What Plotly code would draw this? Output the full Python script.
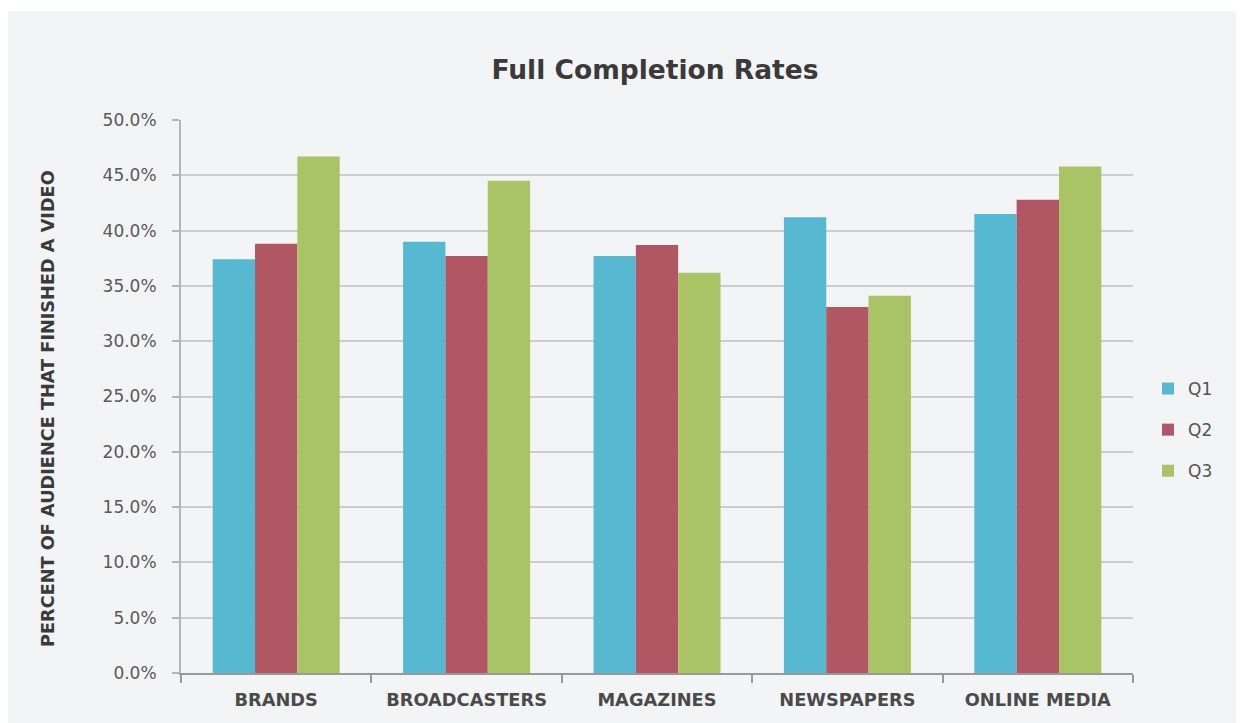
import plotly.graph_objects as go

categories = ["BRANDS", "BROADCASTERS", "MAGAZINES", "NEWSPAPERS", "ONLINE MEDIA"]
q1 = [37.4, 39.0, 37.7, 41.2, 41.5]
q2 = [38.8, 37.7, 38.7, 33.1, 42.8]
q3 = [46.7, 44.5, 36.2, 34.1, 45.8]
series_names = ["Q1", "Q2", "Q3"]
colors = ["#56b9d1", "#b05763", "#a8c465"]
y_ticks = [0, 5, 10, 15, 20, 25, 30, 35, 40, 45, 50]
y_tick_labels = ["0.0%", "5.0%", "10.0%", "15.0%", "20.0%", "25.0%", "30.0%", "35.0%", "40.0%", "45.0%", "50.0%"]

# page has an 8px body margin; figure coordinates = page coordinates - 8
OFF = 8
W, H = 1236, 715
L, T = 181 - OFF, 120 - OFF
pw, ph = 952, 553
R = W - L - pw
B = H - T - ph

fig = go.Figure()
for name, vals, col in zip(series_names, [q1, q2, q3], colors):
    fig.add_trace(go.Bar(x=categories, y=vals, name=name, marker_color=col,
                         marker_line_width=0, legendgroup=name))

def px_x(p):
    # p in page pixels
    return (p - OFF - L) / pw

def px_y(p):
    return (T + ph - (p - OFF)) / ph

BG = "#f3f4f5"
FONT = "DejaVu Sans"

fig.update_layout(
    width=W, height=H,
    margin=dict(l=L, r=R, t=T, b=B, autoexpand=False),
    paper_bgcolor=BG,
    plot_bgcolor=BG,
    barmode="group", bargap=0.333, bargroupgap=0,
    font=dict(family=FONT, color="#555555"),
    title=dict(text="<b>Full Completion Rates</b>", x=px_x(655), xref="paper", xanchor="center",
               y=1 - (70 - OFF) / H, yanchor="middle",
               font=dict(size=26.5, color="#3a3a3a", family=FONT)),
    legend=dict(x=px_x(1148), y=px_y(430), xanchor="left", yanchor="middle",
                font=dict(size=17, color="#555555", family=FONT), tracegroupgap=16,
                bgcolor="rgba(0,0,0,0)", itemwidth=30),
    showlegend=True,
    shapes=[dict(type="rect", xref="paper", yref="paper", layer="above",
                 x0=px_x(0), x1=px_x(1250), y0=px_y(11), y1=px_y(0),
                 fillcolor="white", line_width=0)],
    annotations=[dict(text="<b>PERCENT OF AUDIENCE THAT FINISHED A VIDEO</b>", textangle=-90,
                      xref="paper", yref="paper", x=px_x(48), y=px_y(409),
                      xanchor="center", yanchor="middle", showarrow=False,
                      font=dict(size=17.7, color="#3a3a3a", family=FONT))],
)

fig.update_yaxes(range=[0, 50], tickvals=y_ticks, ticktext=y_tick_labels,
                 showgrid=True, gridcolor="#cdcdcd", gridwidth=2,
                 showline=True, linecolor="#b5b5b5", linewidth=2,
                 ticks="outside", ticklen=7, tickcolor="#b5b5b5", tickwidth=2,
                 ticklabelstandoff=12,
                 tickfont=dict(size=17, color="#595959", family=FONT), zeroline=False)
fig.update_xaxes(showline=True, linecolor="#999999", linewidth=2,
                 ticks="outside", tickson="boundaries", ticklen=8, tickcolor="#999999", tickwidth=2,
                 ticklabelstandoff=10,
                 tickfont=dict(size=17.8, color="#4a4a4a", family=FONT),
                 tickprefix="<b>", ticksuffix="</b>", showgrid=False)

fig.write_html("out.html")
